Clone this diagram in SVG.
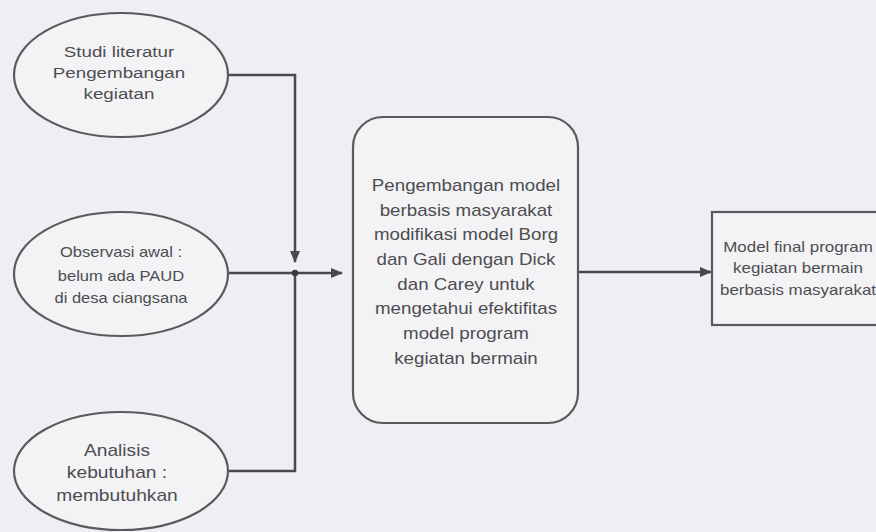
<svg xmlns="http://www.w3.org/2000/svg" width="876" height="532" viewBox="0 0 876 532">
  <defs>
    <marker id="arrow" markerWidth="12" markerHeight="10" refX="11" refY="5" orient="auto" markerUnits="userSpaceOnUse">
      <path d="M0,0 L12,5 L0,10 Z" fill="#4a4a4c"/>
    </marker>
    <style>
      .shape { fill: #f3f3f6; stroke: #5a5a5c; stroke-width: 2.2; }
      .conn { fill: none; stroke: #4a4a4c; stroke-width: 2.5; }
      text { font-family: "Liberation Sans", Arial, sans-serif; fill: #4d4d50; text-anchor: middle; }
      .t15 { font-size: 15px; }
      .t14 { font-size: 14px; }
      .t16 { font-size: 16px; }
    </style>
  </defs>
  <rect x="0" y="0" width="876" height="532" fill="#eeeef3"/>

  <g id="connectors">
    <polyline class="conn" points="228,75 295,75 295,262" marker-end="url(#arrow)"/>
    <polyline class="conn" points="228,273 342,273" marker-end="url(#arrow)"/>
    <polyline class="conn" points="228,471 295,471 295,273"/>
    <circle cx="295" cy="273" r="3.2" fill="#3a3a3c"/>
    <polyline class="conn" points="578,272 711,272" marker-end="url(#arrow)"/>
  </g>

  <g id="studi-literatur">
    <ellipse class="shape" cx="121" cy="75" rx="107" ry="62"/>
    <text class="t15" transform="translate(119,57) scale(1.25,1)">Studi literatur</text>
    <text class="t15" transform="translate(119,78) scale(1.25,1)">Pengembangan</text>
    <text class="t15" transform="translate(119,99) scale(1.25,1)">kegiatan</text>
  </g>

  <g id="observasi-awal">
    <ellipse class="shape" cx="121" cy="274" rx="107" ry="62"/>
    <text class="t14" transform="translate(121,257) scale(1.18,1)">Observasi awal :</text>
    <text class="t14" transform="translate(121,281) scale(1.18,1)">belum ada PAUD</text>
    <text class="t14" transform="translate(121,303) scale(1.18,1)">di desa ciangsana</text>
  </g>

  <g id="analisis-kebutuhan">
    <ellipse class="shape" cx="121" cy="471" rx="107" ry="59"/>
    <text class="t16" transform="translate(117,456) scale(1.2,1)">Analisis</text>
    <text class="t16" transform="translate(117,478) scale(1.2,1)">kebutuhan :</text>
    <text class="t16" transform="translate(117,501) scale(1.2,1)">membutuhkan</text>
  </g>

  <g id="pengembangan-model">
    <rect class="shape" x="353" y="117" width="225" height="306" rx="30" ry="30"/>
    <text class="t16" transform="translate(466,191) scale(1.17,1)">Pengembangan model</text>
    <text class="t16" transform="translate(466,216) scale(1.17,1)">berbasis masyarakat</text>
    <text class="t16" transform="translate(466,240) scale(1.17,1)">modifikasi model Borg</text>
    <text class="t16" transform="translate(466,265) scale(1.17,1)">dan Gali dengan Dick</text>
    <text class="t16" transform="translate(466,290) scale(1.17,1)">dan Carey untuk</text>
    <text class="t16" transform="translate(466,314) scale(1.17,1)">mengetahui efektifitas</text>
    <text class="t16" transform="translate(466,339) scale(1.17,1)">model program</text>
    <text class="t16" transform="translate(466,364) scale(1.17,1)">kegiatan bermain</text>
  </g>

  <g id="model-final">
    <rect class="shape" x="712" y="212" width="180" height="113"/>
    <text class="t14" transform="translate(798,252) scale(1.21,1)">Model final program</text>
    <text class="t14" transform="translate(798,273) scale(1.21,1)">kegiatan bermain</text>
    <text class="t14" transform="translate(798,295) scale(1.21,1)">berbasis masyarakat</text>
  </g>
</svg>
